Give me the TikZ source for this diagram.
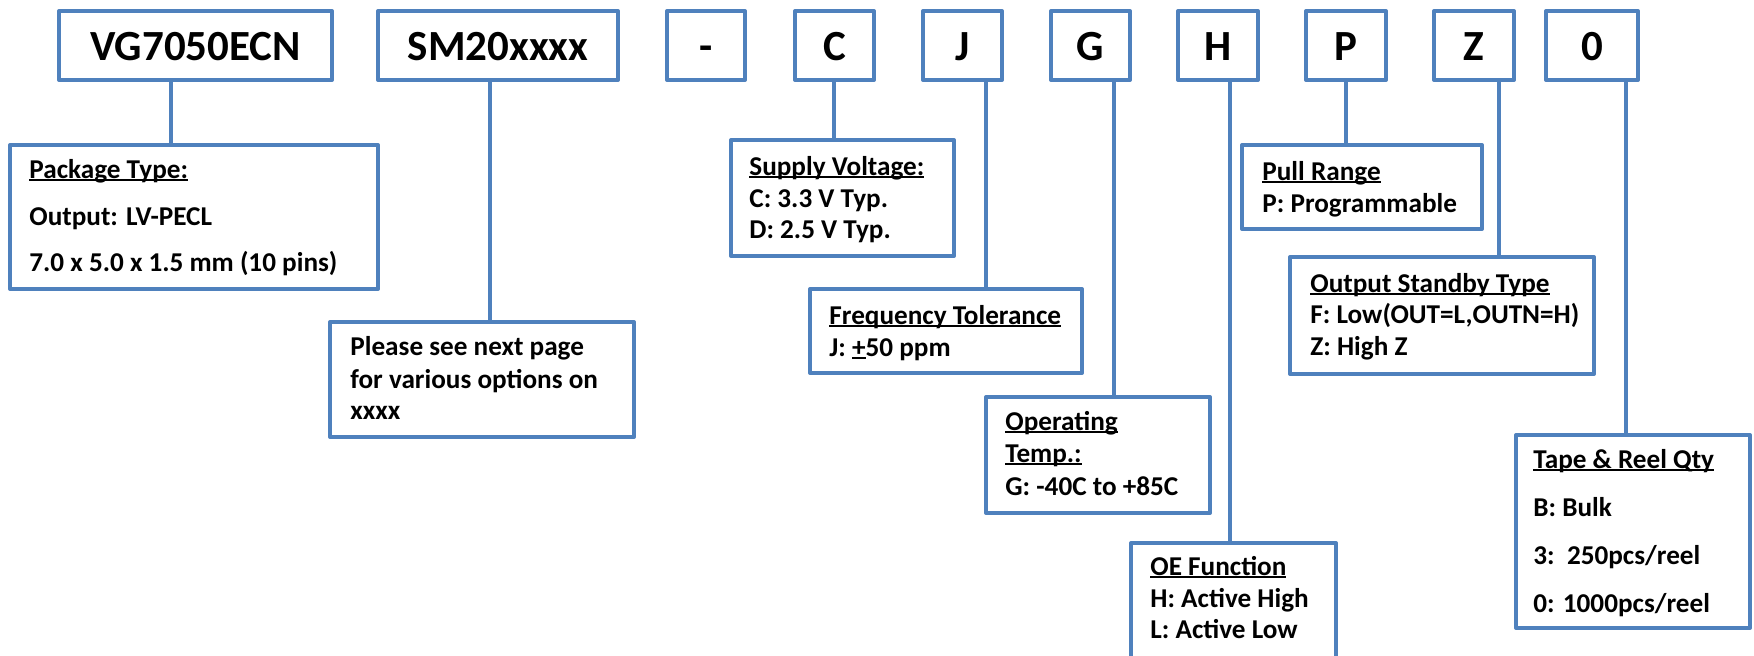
\documentclass[tikz,border=0pt]{standalone}
\usepackage{fontspec}
\setmainfont{Carlito}
\usetikzlibrary{fit}
\definecolor{boxblue}{HTML}{4F81BD}
\newcommand\ulx[1]{\setbox0=\hbox{#1}\rlap{\rule[-0.11em]{\wd0}{0.06em}}\box0\relax}
\begin{document}
\begin{tikzpicture}[x=0.5pt,y=-0.5pt,
  box/.style={draw=boxblue, line width=2pt, inner sep=0pt, line join=round},
  conn/.style={draw=boxblue, line width=2pt},
  top/.style={font=\fontsize{21.5pt}{25pt}\selectfont\bfseries, inner sep=0pt, anchor=base},
  txt/.style={font=\fontsize{13.6pt}{16pt}\selectfont\bfseries, inner sep=0pt, anchor=base west}]
\useasboundingbox (0,0) rectangle (1754,655);
\fill[white] (0,0) rectangle (1754,655);
% top boxes
\node[box, fit={(59,11) (332,80)}] (vg) {};
\node[box, fit={(378,11) (618,80)}] (sm) {};
\node[box, fit={(667,11) (745,80)}] (dash) {};
\node[box, fit={(795,11) (874,80)}] (c) {};
\node[box, fit={(923,11) (1002,80)}] (j) {};
\node[box, fit={(1051,11) (1130,80)}] (g) {};
\node[box, fit={(1178,11) (1258,80)}] (h) {};
\node[box, fit={(1306,11) (1386,80)}] (p) {};
\node[box, fit={(1434,11) (1514,80)}] (z) {};
\node[box, fit={(1546,11) (1638,80)}] (zero) {};
\node[top] (vgt) at (195.5,60) {VG7050ECN};
\node[top] (smt) at (498,60) {SM20xxxx};
\node[top] (dasht) at (706,60) {-};
\node[top] (ct) at (834.5,60) {C};
\node[top] (jt) at (962.5,60) {J};
\node[top] (gt) at (1090.5,60) {G};
\node[top] (ht) at (1218,60) {H};
\node[top] (pt) at (1346,60) {P};
\node[top] (zt) at (1474,60) {Z};
\node[top] (zerot) at (1592,60) {0};
% lower boxes
\node[box, fit={(10,145) (378,289)}] (pkg) {};
\node[box, fit={(330,322) (634,437)}] (plz) {};
\node[box, fit={(731,140) (954,256)}] (sup) {};
\node[box, fit={(810,289) (1082,373)}] (frq) {};
\node[box, fit={(986,397) (1210,513)}] (opt) {};
\node[box, fit={(1131,543) (1336,690)}] (oe) {};
\node[box, fit={(1242,145) (1482,229)}] (pull) {};
\node[box, fit={(1290,257) (1594,374)}] (ost) {};
\node[box, fit={(1516,435) (1750,628)}] (tape) {};
% connector columns
\coordinate (xvg) at (171,0);
\coordinate (xsm) at (490,0);
\coordinate (xc) at (834,0);
\coordinate (xj) at (986,0);
\coordinate (xg) at (1114,0);
\coordinate (xh) at (1230,0);
\coordinate (xp) at (1346,0);
\coordinate (xz) at (1499,0);
\coordinate (xzero) at (1626,0);
\draw[conn] (vg.south -| xvg) -- (pkg.north -| xvg);
\draw[conn] (sm.south -| xsm) -- (plz.north -| xsm);
\draw[conn] (c.south -| xc) -- (sup.north -| xc);
\draw[conn] (j.south -| xj) -- (frq.north -| xj);
\draw[conn] (g.south -| xg) -- (opt.north -| xg);
\draw[conn] (h.south -| xh) -- (oe.north -| xh);
\draw[conn] (p.south -| xp) -- (pull.north -| xp);
\draw[conn] (z.south -| xz) -- (ost.north -| xz);
\draw[conn] (zero.south -| xzero) -- (tape.north -| xzero);
% texts
\node[txt] (pkg1) at (29,178) {\ulx{Package Type:}};
\node[txt] (pkg2) at (29,225) {Output: LV-PECL};
\node[txt] (pkg3) at (29,271) {7.0 x 5.0 x 1.5 mm (10 pins)};
\node[txt] (plz1) at (350,355) {Please see next page};
\node[txt] (plz2) at (350,388) {for various options on};
\node[txt] (plz3) at (350,419) {xxxx};
\node[txt] (sup1) at (749,175) {\ulx{Supply Voltage:}};
\node[txt] (sup2) at (749,207) {C: 3.3 V Typ.};
\node[txt] (sup3) at (749,238) {D: 2.5 V Typ.};
\node[txt] (frq1) at (829,324) {\ulx{Frequency Tolerance}};
\node[txt] (frq2) at (829,356) {J: \ulx{+}50 ppm};
\node[txt] (opt1) at (1005,430) {\ulx{Operating}};
\node[txt] (opt2) at (1005,462) {\ulx{Temp.:}};
\node[txt] (opt3) at (1005,495) {G: -40C to +85C};
\node[txt] (oe1) at (1150,575) {\ulx{OE Function}};
\node[txt] (oe2) at (1150,607) {H: Active High};
\node[txt] (oe3) at (1150,638) {L: Active Low};
\node[txt] (pull1) at (1262,180) {\ulx{Pull Range}};
\node[txt] (pull2) at (1262,212) {P: Programmable};
\node[txt] (ost1) at (1310,292) {\ulx{Output Standby Type}};
\node[txt] (ost2) at (1310,323) {F: Low(OUT=L,OUTN=H)};
\node[txt] (ost3) at (1310,355) {Z: High Z};
\node[txt] (tape1) at (1533,468) {\ulx{Tape \& Reel Qty}};
\node[txt] (tape2) at (1533,516) {B: Bulk};
\node[txt] (tape3) at (1533,564) {3:\ \ 250pcs/reel};
\node[txt] (tape4) at (1533,612) {0: 1000pcs/reel};
\end{tikzpicture}
\end{document}
